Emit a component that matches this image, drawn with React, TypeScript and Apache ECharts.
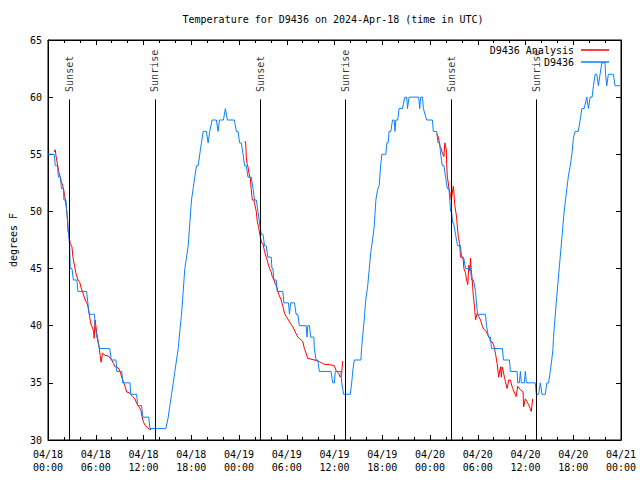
import React, { useEffect, useRef } from "react";
import * as echarts from "echarts";

// Hours since 2024-04-18 00:00 UTC, temperature in degrees F
const obsPoints: [number, number][] = [
  [0, 55], [0.79, 55], [0.91, 54], [1.19, 54], [1.31, 53], [1.57, 53], [1.69, 52], [1.94, 52], [2.0, 51], [2.25, 51],
  [2.47, 49], [2.59, 48], [2.72, 47], [2.79, 45], [3.01, 45], [3.19, 44], [3.63, 44], [3.76, 43], [4.85, 43], [5.01, 42],
  [5.17, 41], [5.85, 41], [5.92, 40], [6.14, 39], [6.45, 38], [7.76, 38], [7.95, 37], [8.55, 37], [8.64, 36], [9.27, 36],
  [9.39, 35], [10.31, 35], [10.39, 34], [11.14, 34], [11.27, 33], [11.77, 33], [11.9, 32], [12.65, 32], [12.81, 31], [14.81, 31],
  [15.11, 32], [15.31, 33], [15.53, 34], [15.74, 35], [15.94, 36], [16.15, 37], [16.37, 38], [16.57, 39.6], [16.78, 41], [16.99, 43],
  [17.19, 45], [17.41, 46], [17.62, 47], [17.82, 49], [18.03, 51], [18.24, 52], [18.44, 53], [18.66, 54], [18.87, 54], [19.07, 55],
  [19.28, 56], [19.5, 57], [19.7, 57], [19.91, 57], [20.12, 56], [20.32, 57], [20.62, 58], [21.16, 58], [21.37, 57], [21.54, 58],
  [22.04, 58], [22.29, 59], [22.54, 58], [23.42, 58], [23.67, 57], [23.88, 57], [24.08, 56], [24.29, 56], [24.51, 55], [24.71, 54],
  [24.92, 54], [25.13, 53], [25.33, 53], [25.54, 53], [25.76, 52], [25.96, 51], [26.17, 51], [26.38, 50], [26.58, 49], [26.8, 48],
  [27.01, 48], [27.21, 47], [27.42, 47], [27.63, 46], [28.05, 46], [28.14, 45], [28.26, 45], [28.39, 44], [28.68, 44], [28.8, 43],
  [29.51, 43], [29.64, 42], [30.22, 42], [30.34, 41], [30.49, 42], [30.97, 42], [31.18, 41], [31.39, 41], [31.59, 40], [32.43, 40],
  [32.55, 39], [32.64, 40], [32.85, 40], [33.0, 39], [33.4, 39], [33.47, 38], [33.68, 37], [33.9, 37], [34.1, 36], [35.56, 36],
  [35.78, 35], [35.98, 35], [36.1, 36], [36.81, 36], [36.9, 35], [37.15, 34], [37.98, 34], [38.16, 35], [38.29, 36], [38.48, 37],
  [38.69, 37], [39.32, 37], [39.4, 38], [39.53, 39], [39.61, 39.6], [39.73, 40.5], [39.95, 42.4], [40.16, 43.4], [40.36, 44.9], [40.57, 46.5],
  [40.78, 47.5], [40.99, 48.7], [41.2, 51], [41.41, 51.9], [41.61, 52.25], [41.82, 54.2], [41.95, 55], [42.45, 55], [42.58, 56], [42.74, 56],
  [42.86, 57], [43.08, 57], [43.29, 58], [43.49, 58], [43.61, 57], [43.7, 58], [43.95, 58], [44.11, 59], [44.54, 59], [44.83, 60],
  [45.08, 60], [45.17, 59], [45.37, 60], [46.58, 60], [46.71, 59], [46.83, 60], [47.05, 60], [47.17, 59], [47.58, 58], [48.3, 58],
  [48.42, 57], [48.84, 57], [49.0, 56], [49.21, 56], [49.34, 55], [49.55, 54], [49.75, 54], [49.96, 53], [50.18, 52], [50.38, 52],
  [50.59, 50], [50.71, 50], [50.84, 49], [50.96, 49], [51.21, 48], [51.46, 47], [51.84, 47], [51.97, 46], [52.22, 46], [52.47, 45],
  [53.09, 45], [53.22, 44], [53.47, 44], [53.72, 43], [53.84, 42], [53.97, 41], [54.97, 41], [55.1, 40], [55.35, 39], [55.6, 39],
  [55.72, 38], [57.1, 38], [57.23, 37], [57.98, 37], [58.1, 36], [58.94, 36], [59.02, 35], [59.23, 35], [59.36, 36], [59.48, 35],
  [59.86, 35], [59.98, 36], [60.11, 35], [61.23, 35], [61.36, 34], [61.65, 34], [61.86, 35], [62.07, 34], [62.48, 34], [62.69, 35],
  [62.9, 35], [63.11, 36], [63.3, 37], [63.45, 38], [63.52, 39], [63.86, 42], [64.11, 44], [64.36, 46], [64.61, 48], [64.86, 50],
  [65.2, 52], [65.37, 53], [65.62, 54], [65.83, 55], [66.03, 56.5], [66.24, 57], [66.62, 57], [66.87, 58], [67.08, 59], [67.37, 59],
  [67.7, 60], [67.91, 59], [68.12, 60], [68.37, 60], [68.54, 61], [68.75, 62], [68.96, 62], [69.16, 61], [69.37, 62], [69.58, 63],
  [69.99, 63], [70.06, 62], [70.21, 61], [70.41, 62], [71.04, 62], [71.25, 61], [71.88, 61],
];

const analysisNight1: [number, number][] = [
  [0.79, 55.2], [0.91, 55.4], [1.0, 54.9], [1.13, 54.35], [1.25, 53.9], [1.34, 53.5], [1.54, 53.0], [1.67, 52.6], [1.84, 52.3], [1.97, 51.9],
  [2.09, 51.4], [2.17, 51.0], [2.29, 50.4], [2.38, 49.8], [2.47, 49.25], [2.5, 48.4], [2.72, 47.5], [2.79, 47.2], [3.01, 46.9], [3.13, 46.0],
  [3.34, 45.2], [3.51, 44.6], [3.76, 44.0], [3.97, 43.85], [4.17, 43.3], [4.47, 42.7], [4.67, 42.25], [4.88, 42.0], [5.01, 41.7], [5.17, 41.1],
  [5.3, 40.5], [5.42, 40.06], [5.6, 39.8], [5.72, 39.5], [5.8, 38.9], [5.92, 40.5], [6.01, 40.0], [6.14, 39.3], [6.42, 38.2], [6.55, 37.4],
  [6.67, 36.8], [6.85, 37.6], [7.18, 37.4], [7.6, 37.35], [8.01, 37.0], [8.23, 36.7], [8.43, 36.4], [8.85, 36.3], [9.05, 36.0], [9.27, 35.5],
  [9.48, 35.1], [9.68, 34.7], [9.89, 34.2], [10.31, 34.1], [10.61, 33.8], [10.93, 33.6], [11.14, 33.2], [11.43, 32.9], [11.68, 32.6], [11.77, 32.2],
  [11.98, 31.6], [12.18, 31.3], [12.48, 31.1], [12.73, 30.95], [12.94, 30.9],
];

const analysisNight2: [number, number][] = [
  [24.71, 56.1], [24.83, 56.1], [24.92, 54.8], [25.01, 54.2], [25.13, 53.9], [25.26, 53.3], [25.42, 52.9], [25.54, 51.9], [25.67, 51.0], [25.88, 51.0],
  [25.96, 50.7], [26.17, 50.0], [26.3, 49.1], [26.46, 48.7], [26.58, 48.1], [26.71, 47.65], [26.89, 47.2], [27.01, 47.2], [27.21, 46.5], [27.42, 46.0],
  [27.63, 45.5], [27.84, 45.0], [28.05, 44.7], [28.18, 44.3], [28.39, 44.0], [28.59, 43.6], [28.8, 43.3], [28.96, 42.8], [29.3, 42.25], [29.51, 41.7],
  [29.72, 41.1], [29.93, 40.8], [30.22, 40.5], [30.47, 40.2], [30.77, 39.9], [31.18, 39.3], [31.39, 39.0], [31.59, 38.9], [32.02, 38.6], [32.22, 38.0],
  [32.43, 37.6], [32.64, 37.15], [33.47, 37.0], [34.1, 36.85], [34.52, 36.7], [34.81, 36.6], [35.35, 36.6], [35.98, 36.5], [36.19, 36.1], [36.53, 35.8],
  [36.73, 35.5], [36.88, 35.7], [37.03, 36.9],
];

const analysisNight3: [number, number][] = [
  [48.84, 56.8], [49.0, 56.6], [49.12, 56.25], [49.25, 55.7], [49.42, 55.5], [49.55, 55.1], [49.75, 54.8], [49.87, 56.0], [50.05, 55.4], [50.09, 54.2],
  [50.18, 53.0], [50.3, 52.5], [50.38, 52.0], [50.59, 51.4], [50.68, 51.0], [50.8, 51.6], [50.93, 52.2], [51.01, 51.6], [51.09, 50.7], [51.34, 49.5],
  [51.43, 48.7], [51.55, 47.8], [51.72, 47.2], [51.84, 46.0], [52.06, 46.0], [52.18, 45.75], [52.26, 45.0], [52.47, 44.6], [52.59, 44.0], [52.75, 43.6],
  [52.88, 45.3], [53.01, 44.8], [53.09, 45.9], [53.18, 44.9], [53.31, 44.0], [53.43, 42.7], [53.59, 41.7], [53.72, 40.5], [53.93, 41.1], [54.13, 40.8],
  [54.35, 40.5], [54.56, 40.0], [54.76, 39.7], [55.06, 39.5], [55.26, 39.2], [55.51, 38.9], [55.6, 38.6], [55.81, 38.6], [56.01, 38.3], [56.22, 37.6],
  [56.43, 36.7], [56.63, 35.5], [56.85, 36.4], [56.97, 35.5], [57.06, 36.4], [57.18, 36.1], [57.35, 35.5], [57.48, 35.1], [57.69, 34.5], [57.89, 35.25],
  [58.1, 35.25], [58.19, 35.0], [58.39, 34.5], [58.64, 34.1], [58.82, 33.8], [59.02, 34.7], [59.36, 34.4], [59.69, 34.2], [59.77, 32.9], [59.98, 33.6],
  [60.19, 33.35], [60.39, 33.1], [60.73, 32.5], [60.9, 33.6],
];

const sunEventHours = [2.67, 13.43, 26.7, 37.37, 50.64, 61.39];
const sunEventNames = ["Sunset", "Sunrise", "Sunset", "Sunrise", "Sunset", "Sunrise"];
const sunLineTop = 59.8;

const titleText = "Temperature for D9436 on 2024-Apr-18 (time in UTC)";
const startMonth = 4;
const startDay = 18;

const FONT = "DejaVu Sans Mono";
const RED = "#ff0000";
const BLUE = "#0a80ff";

function pad2(n: number) {
  return String(n).padStart(2, "0");
}

export default function App() {
  const ref = useRef<HTMLDivElement>(null);
  useEffect(() => {
    if (!ref.current) return;
    const chart = echarts.init(ref.current, null, { renderer: "svg" });
    const tickFmt = (v: number) => {
      const day = startDay + Math.floor(v / 24);
      const hh = Math.round(v % 24);
      return pad2(startMonth) + "/" + pad2(day) + "\n" + pad2(hh) + ":00";
    };
    const xCommon = {
      type: "value",
      min: 0,
      max: 72,
      interval: 6,
      splitLine: { show: false },
      axisLine: { show: true, onZero: false, lineStyle: { color: "#000", width: 1 } },
      axisTick: { show: true, inside: true, length: 5, lineStyle: { color: "#000" } },
      minorTick: { show: true, splitNumber: 3, length: 3, lineStyle: { color: "#000" } },
    };
    const yCommon = {
      type: "value",
      min: 30,
      max: 65,
      interval: 5,
      splitLine: { show: false },
      axisLine: { show: true, onZero: false, lineStyle: { color: "#000", width: 1 } },
      axisTick: { show: true, inside: true, length: 5, lineStyle: { color: "#000" } },
    };
    const redSeries = [analysisNight1, analysisNight2, analysisNight3].map((d) => ({
      name: "D9436 Analysis",
      type: "line",
      data: d,
      showSymbol: false,
      symbol: "none",
      color: RED,
      lineStyle: { color: RED, width: 1 },
      silent: true,
    }));
    chart.setOption({
      animation: false,
      backgroundColor: "#fff",
      title: {
        text: titleText,
        left: 333,
        top: 14,
        padding: 0,
        textAlign: "center",
        textStyle: { fontFamily: FONT, fontSize: 10, fontWeight: "normal", color: "#000" },
      },
      legend: {
        data: ["D9436 Analysis", "D9436"],
        orient: "vertical",
        align: "right",
        right: 31,
        top: 44,
        padding: 0,
        itemGap: 0,
        itemWidth: 28,
        itemHeight: 1.5,
        icon: "rect",
        selectedMode: false,
        textStyle: { fontFamily: FONT, fontSize: 10, color: "#000", lineHeight: 12, padding: [0, 2, 0, 0] },
      },
      grid: { left: 46, right: 19, top: 40, bottom: 40, show: true, borderColor: "#000", borderWidth: 1, backgroundColor: "transparent" },
      xAxis: [
        {
          ...xCommon,
          position: "bottom",
          axisLabel: { show: true, formatter: tickFmt, fontFamily: FONT, fontSize: 10, color: "#000", lineHeight: 13, margin: 8, showMinLabel: true, showMaxLabel: true },
        },
        { ...xCommon, position: "top", axisLabel: { show: false } },
      ],
      yAxis: [
        {
          ...yCommon,
          position: "left",
          name: "degrees F",
          nameLocation: "middle",
          nameGap: 30,
          nameTextStyle: { fontFamily: FONT, fontSize: 10, color: "#000" },
          axisLabel: { show: true, fontFamily: FONT, fontSize: 10, color: "#000", margin: 6 },
        },
        { ...yCommon, position: "right", axisLabel: { show: false } },
      ],
      series: [
        ...redSeries,
        {
          name: "D9436",
          type: "line",
          data: obsPoints,
          showSymbol: false,
          symbol: "none",
          color: BLUE,
          lineStyle: { color: BLUE, width: 1 },
          silent: true,
        },
        {
          name: "sun",
          type: "scatter",
          symbolSize: 1,
          silent: true,
          itemStyle: { color: "rgba(0,0,0,0)" },
          data: sunEventHours.map((h, i) => [h, sunLineTop, sunEventNames[i]]),
          label: {
            show: true,
            formatter: (p: any) => p.data[2],
            position: "top",
            distance: 7,
            rotate: 90,
            align: "left",
            verticalAlign: "middle",
            fontFamily: FONT,
            fontSize: 10,
            color: "#000",
          },
          markLine: {
            silent: true,
            symbol: ["none", "none"],
            label: { show: false },
            lineStyle: { color: "#000", width: 1, type: "solid" },
            data: sunEventHours.map((h) => [{ coord: [h, 30] }, { coord: [h, sunLineTop] }]),
          },
          z: 1,
        },
      ],
    });
    return () => chart.dispose();
  }, []);
  return <div ref={ref} style={{ position: "fixed", left: 0, top: 0, width: 640, height: 480 }} />;
}
